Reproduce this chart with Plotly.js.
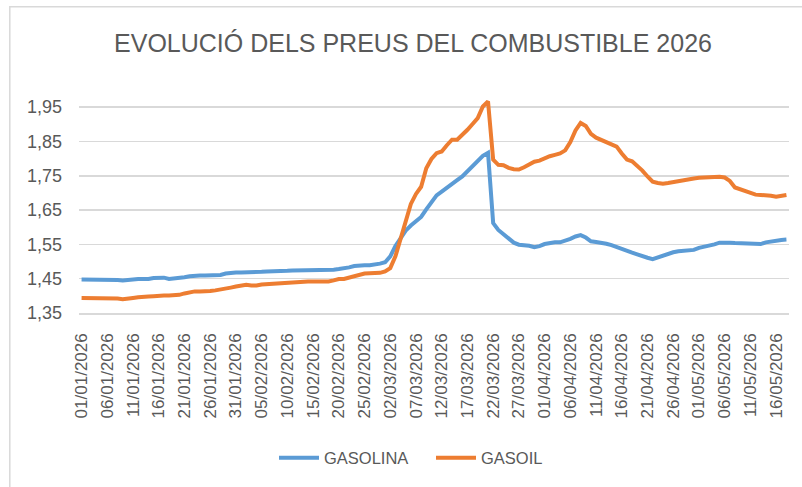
<!DOCTYPE html>
<html>
<head>
<meta charset="utf-8">
<script src="https://cdn.plot.ly/plotly-3.0.1.min.js"></script>
<style>
html,body{margin:0;padding:0;background:#fff;}
#chart{width:802px;height:487px;}
</style>
</head>
<body>
<div id="chart"></div>
<script>
// Daily series starting 01/01/2026 (one value per day)
const startDate = '2026-01-01';
const gasolina = [
 1.448,1.448,1.448,1.448,1.448,1.448,1.448,1.446,1.445,1.447,
 1.449,1.449,1.449,1.449,1.452,1.453,1.453,1.449,1.450,1.452,
 1.454,1.457,1.459,1.459,1.459,1.459,1.459,1.461,1.465,1.467,
 1.468,1.468,1.468,1.468,1.468,1.470,1.471,1.471,1.471,1.471,
 1.473,1.474,1.474,1.474,1.474,1.474,1.474,1.474,1.474,1.476,
 1.478,1.480,1.483,1.487,1.489,1.489,1.489,1.491,1.494,1.498,
 1.515,1.545,1.568,1.590,1.605,1.617,1.630,1.652,1.675,1.693,
 1.704,1.716,1.727,1.737,1.748,1.763,1.775,1.792,1.808,1.817,
 1.612,1.592,1.580,1.566,1.555,1.549,1.548,1.546,1.542,1.545,
 1.551,1.554,1.556,1.556,1.560,1.566,1.573,1.577,1.570,1.559,
 1.557,1.555,1.552,1.548,1.542,1.535,1.529,1.526,1.521,1.515,
 1.511,1.507,1.512,1.519,1.524,1.527,1.530,1.531,1.531,1.534,
 1.540,1.543,1.545,1.550,1.555,1.556,1.555,1.554,1.553,1.553,
 1.552,1.550,1.551,1.556,1.559,1.562,1.563,1.564
];
const gasoil = [
 1.394,1.394,1.394,1.394,1.394,1.394,1.394,1.392,1.390,1.393,
 1.394,1.396,1.398,1.398,1.399,1.401,1.401,1.401,1.401,1.403,
 1.407,1.411,1.413,1.413,1.413,1.414,1.416,1.418,1.421,1.424,
 1.427,1.431,1.432,1.430,1.430,1.433,1.434,1.436,1.437,1.439,
 1.440,1.441,1.442,1.442,1.442,1.442,1.442,1.442,1.442,1.445,
 1.449,1.449,1.453,1.459,1.463,1.465,1.466,1.466,1.467,1.471,
 1.481,1.515,1.563,1.615,1.668,1.697,1.718,1.772,1.799,1.816,
 1.821,1.839,1.855,1.855,1.868,1.884,1.901,1.918,1.952,1.967,
 1.797,1.782,1.781,1.773,1.769,1.768,1.775,1.782,1.791,1.794,
 1.801,1.807,1.811,1.815,1.824,1.848,1.882,1.904,1.895,1.872,
 1.861,1.854,1.848,1.843,1.835,1.815,1.797,1.792,1.779,1.765,
 1.748,1.733,1.729,1.727,1.729,1.732,1.735,1.737,1.740,1.742,
 1.744,1.745,1.746,1.746,1.747,1.745,1.735,1.716,1.711,1.708,
 1.701,1.695,1.694,1.694,1.692,1.689,1.691,1.694
];
const tickDates = [
 '2026-01-01','2026-01-06','2026-01-11','2026-01-16','2026-01-21','2026-01-26','2026-01-31',
 '2026-02-05','2026-02-10','2026-02-15','2026-02-20','2026-02-25','2026-03-02','2026-03-07',
 '2026-03-12','2026-03-17','2026-03-22','2026-03-27','2026-04-01','2026-04-06','2026-04-11',
 '2026-04-16','2026-04-21','2026-04-26','2026-05-01','2026-05-06','2026-05-11','2026-05-16'
];
const tickLabels = [
 '01/01/2026','06/01/2026','11/01/2026','16/01/2026','21/01/2026','26/01/2026','31/01/2026',
 '05/02/2026','10/02/2026','15/02/2026','20/02/2026','25/02/2026','02/03/2026','07/03/2026',
 '12/03/2026','17/03/2026','22/03/2026','27/03/2026','01/04/2026','06/04/2026','11/04/2026',
 '16/04/2026','21/04/2026','26/04/2026','01/05/2026','06/05/2026','11/05/2026','16/05/2026'
];
const yTicks = [1.35,1.45,1.55,1.65,1.75,1.85,1.95];
const yTickLabels = ['1,35','1,45','1,55','1,65','1,75','1,85','1,95'];

const DAY = 86400000;
const FONT = '"Liberation Sans", Arial, sans-serif';
const GREY = '#595959';

const traces = [
 {type:'scatter', mode:'lines', name:'GASOLINA', x0:startDate, dx:DAY, y:gasolina,
  line:{color:'#5B9BD5', width:4}},
 {type:'scatter', mode:'lines', name:'GASOIL', x0:startDate, dx:DAY, y:gasoil,
  line:{color:'#ED7D31', width:4}}
];

const L=79, R=13, T=90, B=174;
const PW = 802-L-R, PH = 487-T-B;
function px(x){return (x-L)/PW;}
function py(y){return (487-B-y)/PH;}

const layout = {
 width:802, height:487,
 margin:{l:L, r:R, t:T, b:B, pad:0},
 paper_bgcolor:'#ffffff', plot_bgcolor:'#ffffff',
 font:{family:FONT, color:GREY},
 title:{text:'EVOLUCIÓ DELS PREUS DEL COMBUSTIBLE 2026', font:{family:FONT, size:25, color:GREY},
        x:413/802, xanchor:'center', xref:'container', y:1-43/487, yanchor:'middle', yref:'container'},
 xaxis:{type:'date', range:['2025-12-31 12:00','2026-05-18 12:00'],
        tickvals:tickDates, ticktext:tickLabels, tickangle:-90,
        tickfont:{family:FONT, size:17, color:GREY},
        showgrid:false, zeroline:false, showline:true, linecolor:'#d9d9d9', linewidth:1.5,
        ticks:'', ticklabelstandoff:12, fixedrange:true},
 yaxis:{range:[1.35,2.0], tickvals:yTicks, ticktext:yTickLabels,
        tickfont:{family:FONT, size:18, color:GREY},
        showgrid:true, gridcolor:'#d9d9d9', gridwidth:1.5, zeroline:false, showline:false,
        ticks:'', ticklabelstandoff:16, fixedrange:true},
 showlegend:true,
 legend:{orientation:'h', x:px(274), xanchor:'left', y:py(458), yanchor:'middle',
         font:{family:FONT, size:16.5, color:GREY}, itemwidth:40,
         entrywidth:102, entrywidthmode:'pixels', bgcolor:'rgba(0,0,0,0)'},
 shapes:[{type:'rect', xref:'paper', yref:'paper', x0:px(9.8), x1:px(815), y0:py(500), y1:py(6.7),
          line:{color:'#d9d9d9', width:1.5}, fillcolor:'rgba(0,0,0,0)', layer:'below'}]
};

Plotly.newPlot('chart', traces, layout, {displayModeBar:false, staticPlot:true});
</script>
</body>
</html>
